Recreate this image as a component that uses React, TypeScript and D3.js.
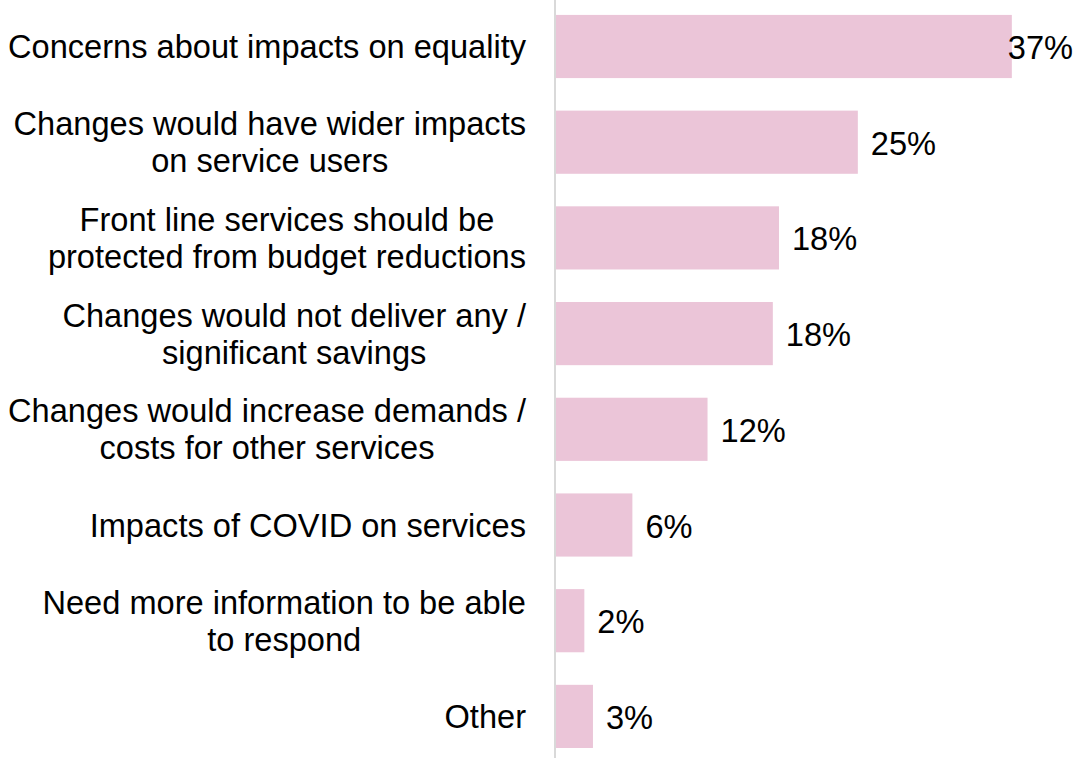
import React, { useEffect, useRef } from "react";
import * as d3 from "d3";

const categories: string[][] = [
  ["Concerns about impacts on equality"],
  ["Changes would have wider impacts", "on service users"],
  ["Front line services should be", "protected from budget reductions"],
  ["Changes would not deliver any /", "significant savings"],
  ["Changes would increase demands /", "costs for other services"],
  ["Impacts of COVID on services"],
  ["Need more information to be able", "to respond"],
  ["Other"],
];
const values: number[] = [37, 24.5, 18.1, 17.6, 12.3, 6.2, 2.3, 3.0];
const valueLabels: string[] = ["37%", "25%", "18%", "18%", "12%", "6%", "2%", "3%"];

const W = 1078;
const H = 758;

export default function App() {
  const ref = useRef<SVGSVGElement>(null);

  useEffect(() => {
    const svg = d3.select(ref.current);
    svg.selectAll("*").remove();
    const font = "'Liberation Sans', Arial, sans-serif";
    const ids = categories.map((_, i) => String(i));
    const x = d3.scaleLinear().domain([0, 40]).range([556, 556 + 40 * 12.32]);
    const y = d3
      .scaleBand<string>()
      .domain(ids)
      .range([-1.35, 764.25])
      .paddingInner(0.34)
      .paddingOuter(0.17);

    svg
      .append("g")
      .selectAll("rect")
      .data(values)
      .join("rect")
      .attr("x", x(0))
      .attr("y", (_, i) => y(ids[i])!)
      .attr("width", (d) => x(d) - x(0))
      .attr("height", y.bandwidth())
      .attr("fill", "#EBC5D8");

    svg
      .append("line")
      .attr("x1", 555)
      .attr("x2", 555)
      .attr("y1", 0)
      .attr("y2", H)
      .attr("stroke", "#D9D9D9")
      .attr("stroke-width", 2);

    const fs = 32.6;
    const lh = 37;
    const labelRight = 526;
    categories.forEach((lines, i) => {
      const cy = y(ids[i])! + y.bandwidth() / 2;
      const g = svg.append("g");
      const texts = lines.map((ln, j) =>
        g
          .append("text")
          .attr("font-family", font)
          .attr("font-size", fs)
          .attr("fill", "#000")
          .attr("text-anchor", "middle")
          .attr("dominant-baseline", "central")
          .attr("y", cy + (j - (lines.length - 1) / 2) * lh)
          .text(ln)
      );
      const widths = texts.map((t) => (t.node() as SVGTextElement).getComputedTextLength());
      const maxW = Math.max(...widths);
      const cx = labelRight - maxW / 2;
      texts.forEach((t) => t.attr("x", cx));
    });

    values.forEach((v, i) => {
      const cy = y(ids[i])! + y.bandwidth() / 2;
      const t = svg
        .append("text")
        .attr("font-family", font)
        .attr("font-size", fs)
        .attr("fill", "#000")
        .attr("dominant-baseline", "central")
        .attr("y", cy + 1)
        .text(valueLabels[i]);
      const w = (t.node() as SVGTextElement).getComputedTextLength();
      const px = Math.min(x(v) + 13, W - 5 - w);
      t.attr("x", px);
    });
  }, []);

  return (
    <svg
      ref={ref}
      width={W}
      height={H}
      style={{ position: "absolute", left: 0, top: 0, background: "#fff" }}
    />
  );
}
